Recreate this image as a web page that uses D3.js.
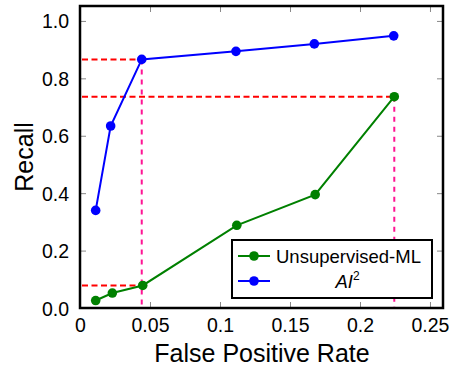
<!DOCTYPE html>
<html><head><meta charset="utf-8">
<script src="https://cdn.jsdelivr.net/npm/d3@7"></script>
<style>body{margin:0;background:#fff}svg{display:block}text{font-family:"Liberation Sans",Arial,sans-serif}</style>
</head><body><div id="chart"></div>
<script>
const seriesNames = ["Unsupervised-ML", "AI2"];
const mlFPR = [0.0112, 0.0231, 0.0448, 0.112, 0.168, 0.2245];
const mlRecall = [0.026, 0.052, 0.0785, 0.288, 0.395, 0.736];
const aiFPR = [0.0112, 0.0219, 0.0441, 0.1114, 0.1674, 0.2241];
const aiRecall = [0.340, 0.634, 0.866, 0.894, 0.920, 0.948];
const xTicks = [0, 0.05, 0.1, 0.15, 0.2, 0.25];
const xTickLabels = ["0", "0.05", "0.1", "0.15", "0.2", "0.25"];
const yTicks = [0, 0.2, 0.4, 0.6, 0.8, 1.0];
const yTickLabels = ["0.0", "0.2", "0.4", "0.6", "0.8", "1.0"];

const W = 451, H = 369;
const m = {l: 80, r: 8, t: 6, b: 61};
const svg = d3.select("#chart").append("svg").attr("width", W).attr("height", H);
const x = d3.scaleLinear().domain([0, 0.2593]).range([m.l, W - m.r]);
const y = d3.scaleLinear().domain([0, 1.052]).range([H - m.b, m.t]);

// ticks (inward, all sides)
const tl = 6, tcol = "#888";
const gx = svg.append("g").attr("transform", `translate(0,${H - m.b})`)
  .call(d3.axisBottom(x).tickValues(xTicks).tickFormat((d,i)=>xTickLabels[i]).tickSizeInner(-tl).tickSizeOuter(0).tickPadding(10));
const gxt = svg.append("g").attr("transform", `translate(0,${m.t})`)
  .call(d3.axisTop(x).tickValues(xTicks).tickFormat("").tickSizeInner(-tl).tickSizeOuter(0));
const gy = svg.append("g").attr("transform", `translate(${m.l},0)`)
  .call(d3.axisLeft(y).tickValues(yTicks).tickFormat((d,i)=>yTickLabels[i]).tickSizeInner(-tl).tickSizeOuter(0).tickPadding(11));
const gyr = svg.append("g").attr("transform", `translate(${W - m.r},0)`)
  .call(d3.axisRight(y).tickValues(yTicks).tickFormat("").tickSizeInner(-tl).tickSizeOuter(0));
[gx, gxt, gy, gyr].forEach(g => {
  g.select(".domain").remove();
  g.selectAll(".tick line").attr("stroke", tcol).attr("stroke-width", 1);
  g.selectAll(".tick text").attr("font-size", 19.5).attr("fill", "#000")
   .style("font-family", '"Liberation Sans",Arial,sans-serif');
});
gx.selectAll(".tick text").attr("dy", "0.72em");
gy.selectAll(".tick text").attr("dy", "0.36em");

// reference dashed lines
const dashed = svg.append("g");
const refH = [[aiFPR[2], aiRecall[2]], [mlFPR[5], mlRecall[5]], [mlFPR[2], mlRecall[2]]];
refH.forEach(([fx, ry]) => {
  dashed.append("line").attr("x1", x(0) + 2).attr("x2", x(fx)).attr("y1", y(ry)).attr("y2", y(ry))
    .attr("stroke", "#ff0000").attr("stroke-width", 2).attr("stroke-dasharray", "6,3.5");
});
const refV = [[aiFPR[2], aiRecall[2]], [mlFPR[5], mlRecall[5]]];
refV.forEach(([fx, ry]) => {
  dashed.append("line").attr("x1", x(fx)).attr("x2", x(fx)).attr("y1", y(ry)).attr("y2", y(0))
    .attr("stroke", "#ff1493").attr("stroke-width", 2).attr("stroke-dasharray", "5,5");
});

// series
const series = [
  {name: seriesNames[0], xs: mlFPR, ys: mlRecall, color: "#008000"},
  {name: seriesNames[1], xs: aiFPR, ys: aiRecall, color: "#0000ff"}
];
const line = d3.line().x(d => x(d[0])).y(d => y(d[1]));
series.forEach(s => {
  const pts = s.xs.map((v, i) => [v, s.ys[i]]);
  svg.append("path").datum(pts).attr("d", line).attr("fill", "none").attr("stroke", s.color).attr("stroke-width", 2);
  svg.selectAll(null).data(pts).enter().append("circle")
    .attr("cx", d => x(d[0])).attr("cy", d => y(d[1])).attr("r", 4.8).attr("fill", s.color);
});

// frame
svg.append("rect").attr("x", m.l).attr("y", m.t).attr("width", W - m.r - m.l).attr("height", H - m.b - m.t)
  .attr("fill", "none").attr("stroke", "#000").attr("stroke-width", 2.5);

// legend
const lg = svg.append("g");
lg.append("rect").attr("x", 232).attr("y", 240).attr("width", 200).attr("height", 58)
  .attr("fill", "#fff").attr("stroke", "#000").attr("stroke-width", 2);
series.forEach((s, i) => {
  const yy = 256 + i * 25;
  lg.append("line").attr("x1", 238).attr("x2", 270).attr("y1", yy).attr("y2", yy).attr("stroke", s.color).attr("stroke-width", 2);
  lg.append("circle").attr("cx", 254).attr("cy", yy).attr("r", 4.8).attr("fill", s.color);
});
lg.append("text").attr("x", 276).attr("y", 256).attr("dy", "0.36em").attr("font-size", 18.5).text(seriesNames[0]);
const t2 = lg.append("text").attr("x", 347.5).attr("y", 281).attr("dy", "0.36em").attr("font-size", 18.5).attr("text-anchor", "middle");
t2.append("tspan").attr("font-style", "italic").text("AI");
t2.append("tspan").attr("font-size", 12).attr("dy", "-0.6em").text("2");

// axis titles
svg.append("text").attr("x", (m.l + W - m.r) / 2 + 0.5).attr("y", 362).attr("text-anchor", "middle")
  .attr("font-size", 25).text("False Positive Rate");
svg.append("text").attr("transform", "translate(33,157) rotate(-90)").attr("text-anchor", "middle")
  .attr("font-size", 25).text("Recall");
</script></body></html>
